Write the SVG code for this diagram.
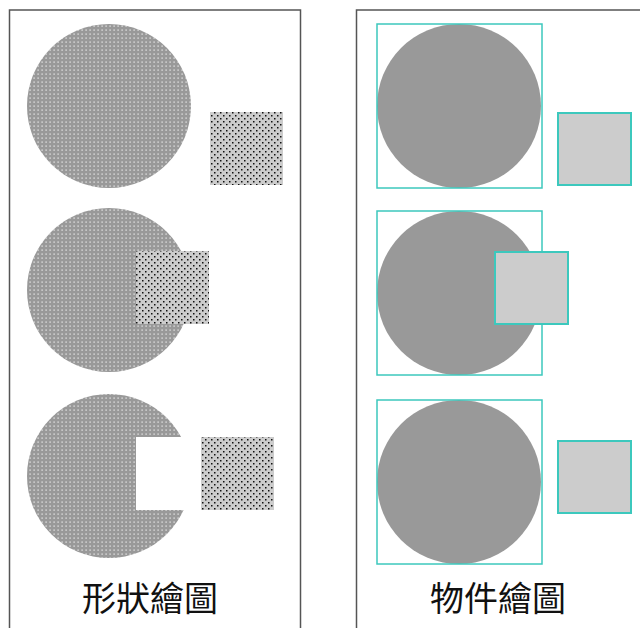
<svg xmlns="http://www.w3.org/2000/svg" width="640" height="628" viewBox="0 0 640 628">
<style>
.panel{fill:#fff;stroke:#555;stroke-width:1.5}
.cshape{fill:url(#pc)}
.sshape{fill:url(#ps)}
.cobj{fill:#999}
.sobj{fill:#ccc;stroke:#3cc8bd;stroke-width:2}
.bbox{fill:none;stroke:#3cc8bd;stroke-width:1.5}
.lbl{font-family:"Noto Sans CJK TC","Noto Sans CJK SC",sans-serif;font-size:34px;fill:#111;text-anchor:middle}
</style>
<defs>
<pattern id="pc" width="4" height="4" patternUnits="userSpaceOnUse">
<rect width="4" height="4" fill="#999"/>
<rect x="1.5" y="1.5" width="1.2" height="1.2" fill="#f4f4f4"/>
</pattern>
<pattern id="ps" width="6" height="6" patternUnits="userSpaceOnUse">
<rect width="6" height="6" fill="#ccc"/>
<rect x="1" y="1" width="1.5" height="1.5" fill="#111"/>
<rect x="4" y="4" width="1.5" height="1.5" fill="#111"/>
</pattern>
</defs>
<g id="panel-left">
<rect class="panel" x="9.5" y="10" width="291" height="630"/>
</g>
<g id="panel-right">
<rect class="panel" x="356.5" y="10" width="300" height="630"/>
</g>
<g id="shape-row1">
<circle class="cshape" cx="109" cy="106" r="82"/>
<rect class="sshape" x="210" y="112" width="73" height="73"/>
</g>
<g id="shape-row2">
<circle class="cshape" cx="109" cy="290" r="82"/>
<rect class="sshape" x="136" y="251" width="73" height="73"/>
</g>
<g id="shape-row3">
<circle class="cshape" cx="109" cy="476" r="82"/>
<rect x="136" y="437" width="60" height="73" fill="#fff"/>
<rect class="sshape" x="201" y="437" width="73" height="73"/>
</g>
<g id="obj-row1">
<circle class="cobj" cx="459" cy="106" r="82"/>
<rect class="bbox" x="377" y="24" width="165" height="164"/>
<rect class="sobj" x="558" y="113" width="73" height="72"/>
</g>
<g id="obj-row2">
<circle class="cobj" cx="459" cy="293" r="82"/>
<rect class="bbox" x="377" y="211" width="165" height="164"/>
<rect class="sobj" x="495" y="252" width="73" height="72"/>
</g>
<g id="obj-row3">
<circle class="cobj" cx="459" cy="482" r="82"/>
<rect class="bbox" x="377" y="400" width="165" height="164"/>
<rect class="sobj" x="558" y="441" width="73" height="72"/>
</g>
<g id="labels">
<text class="lbl" x="150" y="611">形狀繪圖</text>
<text class="lbl" x="498" y="611">物件繪圖</text>
</g>
</svg>
